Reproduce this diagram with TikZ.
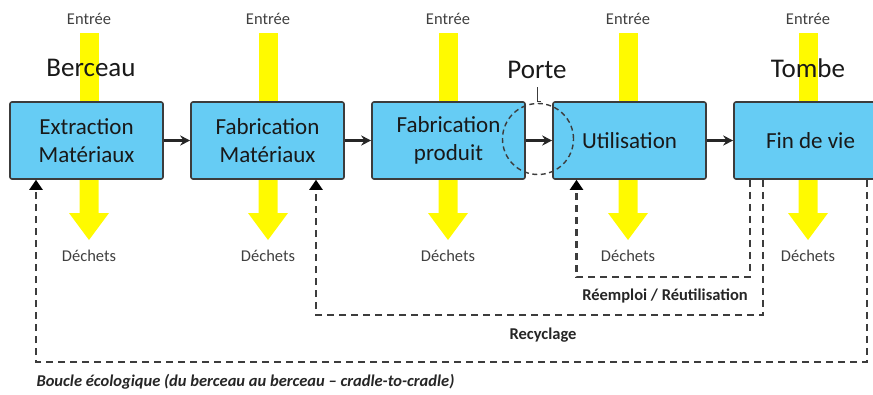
\documentclass[tikz,border=0pt]{standalone}
\usepackage{fontspec}
\setmainfont{Carlito}
\usetikzlibrary{arrows.meta}
\definecolor{boxblue}{RGB}{102,204,244}
\definecolor{edgegray}{RGB}{60,60,60}
\definecolor{textgray}{RGB}{64,64,64}
\definecolor{flowyellow}{RGB}{255,250,0}
\tikzset{
  stage/.style={draw=edgegray, line width=1.6pt, fill=boxblue, rounded corners=2pt,
    minimum width=153pt, minimum height=77pt, align=center, inner sep=0pt,
    font=\fontsize{23}{28}\selectfont, text=black!90},
  flowlabel/.style={font=\fontsize{16.5}{19}\selectfont, text=textgray},
  phase/.style={font=\fontsize{27}{32}\selectfont, text=black!90},
  loopnote/.style={font=\bfseries\fontsize{16.5}{19}\selectfont, text=black!85},
  chain/.style={line width=2.4pt, black!85, -{Stealth[length=10pt,width=10pt]}},
  loop/.style={line width=2.2pt, edgegray, dash pattern=on 7pt off 5pt,
    -{Triangle[length=10pt,width=13pt,color=black]}},
  gate/.style={line width=1.4pt, edgegray, dash pattern=on 5pt off 3.5pt}
}
\newcommand{\flowbar}[1]{%
  \fill[flowyellow] (#1-9.5,33) rectangle (#1+9.5,105);
  \fill[flowyellow] (#1-9.5,176) -- (#1+9.5,176) -- (#1+9.5,213) -- (#1+20,213)
    -- (#1,240) -- (#1-20,213) -- (#1-9.5,213) -- cycle;}
\begin{document}
\begin{tikzpicture}[x=1pt,y=-1pt]
\useasboundingbox (0,0) rectangle (873,394);
\clip (0,0) rectangle (873,394);

% material flows entering and leaving each stage
\flowbar{89}
\flowbar{268}
\flowbar{448}
\flowbar{628}
\flowbar{808}

\foreach \x/\n in {89/1,268/2,448/3,628/4,808/5}{
  \node[flowlabel] (in\n) at (\x,19) {Entrée};
  \node[flowlabel] (out\n) at (\x,256) {Déchets};
}

% life-cycle stages
\node[stage] (ext) at (86.5,140.5) {Extraction\\Matériaux};
\node[stage] (fab) at (267.5,140.5) {Fabrication\\Matériaux};
\node[stage] (prod) at (448.5,140.5) {Fabrication\\produit};
\node[stage] (use) at (629.5,140.5) {Utilisation};
\node[stage] (eol) at (810.5,140.5) {Fin de vie};

\draw[chain] (ext.east) -- (fab.west);
\draw[chain] (fab.east) -- (prod.west);
\draw[chain] (prod.east) -- (use.west);
\draw[chain] (use.east) -- (eol.west);

% phase labels
\node[phase] (berceau) at (91,68) {Berceau};
\node[phase] (tombe) at (808,68) {Tombe};
\node[phase] (porte) at (537,70) {Porte};

% gate marker between product and use
\node[gate, draw, circle, minimum size=71pt, inner sep=0pt] (gatering) at (538,139) {};
\coordinate (tick) at (537,87);
\draw[edgegray, line width=0.9pt] (tick) -- ++(0,14) -- ++(4,0);

% return loops
\coordinate (r1) at (750,277);
\coordinate (r2) at (763,315);
\coordinate (r3) at (867,362);
\draw[loop] (eol.south -| r1) -- (r1) -| ([xshift=-53pt]use.south);
\draw[loop] (eol.south -| r2) -- (r2) -| ([xshift=48.5pt]fab.south);
\draw[loop] (eol.south -| r3) -- (r3) -| ([xshift=-50.5pt]ext.south);

\node[loopnote] (reuse) at (665,296) {Réemploi / Réutilisation};
\node[loopnote] (recy) at (543,335) {Recyclage};
\node[loopnote, font=\bfseries\itshape\fontsize{16.5}{19}\selectfont, anchor=west] (c2c) at (33,382)
  {Boucle écologique (du berceau au berceau – cradle-to-cradle)};
\end{tikzpicture}
\end{document}
